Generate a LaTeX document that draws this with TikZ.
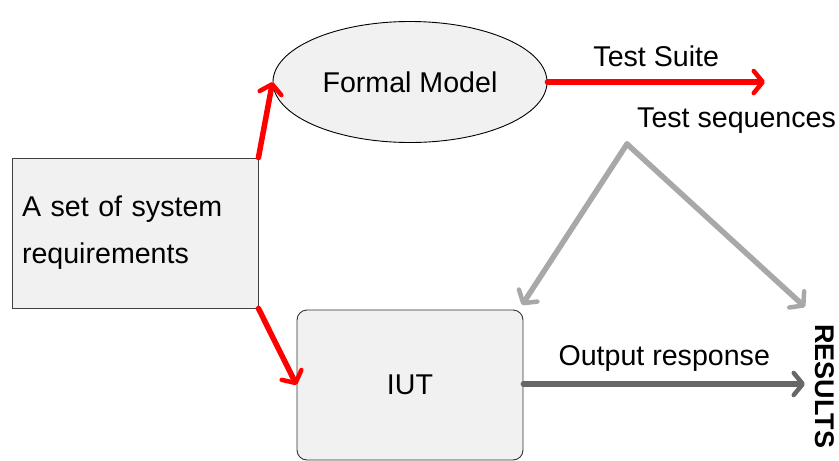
\documentclass[tikz,border=0pt]{standalone}
\usepackage{fontspec}
\setmainfont{Liberation Sans}
\usetikzlibrary{shapes.geometric,arrows.meta}
\definecolor{boxfill}{HTML}{F1F1F1}
\definecolor{redline}{HTML}{FF0000}
\definecolor{lightline}{HTML}{A8A8A8}
\definecolor{darkline}{HTML}{676767}
\tikzset{
  txt/.style={font=\fontsize{28.6}{47}\selectfont, inner sep=0pt},
  reqbox/.style={draw=black!75, line width=0.9pt, fill=boxfill, minimum width=246pt, minimum height=150pt, text width=226pt, align=left, inner sep=0pt, txt},
  modelshape/.style={ellipse, draw=black, line width=0.9pt, fill=boxfill, minimum width=274pt, minimum height=121pt, inner sep=0pt, txt},
  iutbox/.style={draw=black!80, line width=0.9pt, fill=boxfill, rounded corners=10pt, minimum width=226pt, minimum height=150pt, inner sep=0pt, txt},
  flow/.style={line width=5.5pt, line cap=round, line join=round, -{Straight Barb[length=9pt, width=22pt, line width=4.5pt, round]}},
}
\begin{document}
\begin{tikzpicture}[x=1pt, y=-1pt]
  \useasboundingbox (0,0) rectangle (839,461);

  % boxes
  \node[reqbox] (req) at (135,233) {A set of system\\requirements};
  \node[modelshape] (model) at (410,82) {Formal Model};
  \node[iutbox] (iut) at (410,385) {IUT};

  % free labels
  \node[txt, anchor=base west] (seq) at (637,127) {Test sequences};
  \node[txt, font=\fontsize{27}{32}\selectfont\bfseries, rotate=-90] (res) at (825,386) {RESULTS};
  \coordinate (fork) at (627,144);
  \coordinate (suiteend) at (765,82);
  \coordinate (gapleft) at (522,305);
  \coordinate (gapright) at (805,307);
  \coordinate (outend) at (805,384);

  % requirements feed the model and the implementation
  \draw[flow, draw=redline] (req.north east) -- (model.west);
  \draw[flow, draw=redline] (req.south east) -- (iut.west);

  % test suite generated from the model
  \draw[flow, draw=redline] (model.east) -- node[txt, above=12pt] (suite) {Test Suite} (suiteend);

  % test sequences applied to the IUT and the results
  \draw[flow, draw=lightline] (fork) -- (gapleft);
  \draw[flow, draw=lightline] (fork) -- (gapright);

  % output of the IUT
  \draw[flow, draw=darkline] (iut.east |- outend) -- node[txt, above=10pt] (out) {Output response} (outend);
\end{tikzpicture}
\end{document}
